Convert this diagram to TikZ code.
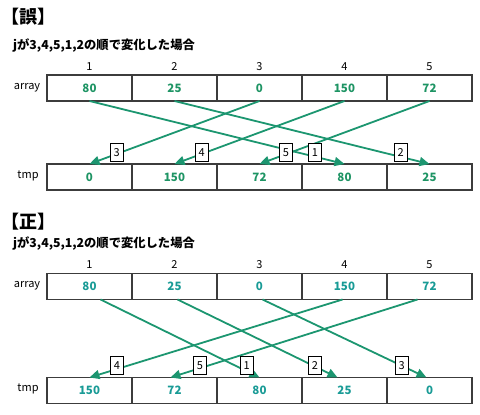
\documentclass[tikz,border=0pt]{standalone}
\usepackage{fontspec}
\setmainfont{Noto Sans CJK JP}
\usetikzlibrary{arrows.meta,calc}
\definecolor{arrowgreen}{RGB}{28,150,112}
\definecolor{topval}{RGB}{30,148,100}
\definecolor{botval}{RGB}{25,155,150}
\definecolor{boxgray}{RGB}{60,60,60}
\begin{document}
\begin{tikzpicture}[x=1pt,y=-1pt,
  cell/.style={draw=boxgray, line width=1.2pt, minimum width=85pt, minimum height=26pt,
    inner sep=0pt, outer sep=0pt, font=\fontsize{11.5}{12}\selectfont\bfseries},
  conn/.style={draw=arrowgreen, line width=1.8pt, -{Triangle[length=10pt,width=9pt]}},
  lab/.style={draw=black, fill=white, line width=0.9pt, minimum width=13pt, minimum height=18pt,
    inner sep=0pt, font=\fontsize{11}{12}\selectfont},
  title/.style={inner sep=0pt, font=\fontsize{18}{20}\selectfont\bfseries},
  subtitle/.style={inner sep=0pt, anchor=west, font=\fontsize{12.3}{14}\selectfont\bfseries},
  idx/.style={inner sep=0pt, font=\fontsize{11}{12}\selectfont},
  rowlab/.style={inner sep=0pt, font=\fontsize{11}{12}\selectfont}
]
\useasboundingbox (0,0) rectangle (480,415);

% ---------- top (wrong) ----------
\node[title] (t1) at (28.5,17) {【誤】};
\node[subtitle] (s1) at (13,46) {jが3,4,5,1,2の順で変化した場合};
\foreach \i in {1,...,5} \node[idx] (ia\i) at ({47+85*(\i-0.5)},67) {\i};
\node[rowlab] (ra1) at (27,88) {array};
\node[rowlab] (rt1) at (28,176) {tmp};
\foreach \i/\v in {1/80,2/25,3/0,4/150,5/72}
  \node[cell, text=topval] (A\i) at ({47+85*(\i-0.5)},88) {\v};
\foreach \i/\v in {1/0,2/150,3/72,4/80,5/25}
  \node[cell, text=topval] (T\i) at ({47+85*(\i-0.5)},177) {\v};
\draw[conn] (A1.south) -- (T4.north);
\draw[conn] (A2.south) -- (T5.north);
\draw[conn] (A3.south) -- (T1.north);
\draw[conn] (A4.south) -- (T2.north);
\draw[conn] (A5.south) -- (T3.north);
\node[lab] (la3) at (116.7,152.3) {3};
\node[lab] (la4) at (201.7,152.3) {4};
\node[lab] (la5) at (286,152.3) {5};
\node[lab] (la1) at (315,152.3) {1};
\node[lab] (la2) at (400.7,152.3) {2};

% ---------- bottom (correct) ----------
\node[title] (t2) at (28.5,222) {【正】};
\node[subtitle] (s2) at (13,244) {jが3,4,5,1,2の順で変化した場合};
\foreach \i in {1,...,5} \node[idx] (ib\i) at ({47+85*(\i-0.5)},265) {\i};
\node[rowlab] (ra2) at (27,286) {array};
\node[rowlab] (rt2) at (28,389) {tmp};
\foreach \i/\v in {1/80,2/25,3/0,4/150,5/72}
  \node[cell, text=botval] (B\i) at ({47+85*(\i-0.5)},286.5) {\v};
\foreach \i/\v in {1/150,2/72,3/80,4/25,5/0}
  \node[cell, text=botval] (U\i) at ({47+85*(\i-0.5)},390.5) {\v};
\draw[conn] ([xshift=11pt]B1.south) -- (U3.north);
\draw[conn] ([xshift=3pt]B2.south) -- ([xshift=-7pt]U4.north);
\draw[conn] ([xshift=3pt]B3.south) -- ([xshift=-3pt]U5.north);
\draw[conn] ([xshift=-2pt]B4.south) -- (U1.north);
\draw[conn] ([xshift=-12pt]B5.south) -- ([xshift=-4pt]U2.north);
\node[lab] (lb4) at (117,365.7) {4};
\node[lab] (lb5) at (200,365.7) {5};
\node[lab] (lb1) at (246.7,365.7) {1};
\node[lab] (lb2) at (315,365.7) {2};
\node[lab] (lb3) at (401.7,365.7) {3};
\end{tikzpicture}
\end{document}
